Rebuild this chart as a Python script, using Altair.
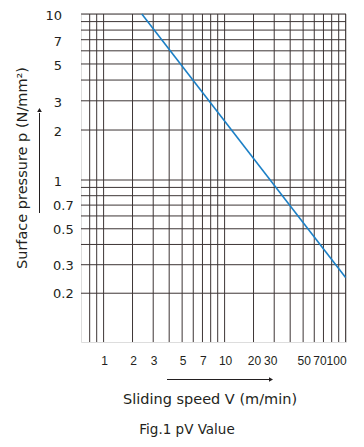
import altair as alt
import pandas as pd

# ---- data ----
x_grid = [0.8, 0.9, 1, 2, 3, 4, 5, 6, 7, 8, 9, 10, 20, 30, 40, 50, 60, 70, 80, 90, 100]
y_grid = [0.2, 0.3, 0.4, 0.5, 0.6, 0.7, 0.8, 0.9, 1, 2, 3, 4, 5, 6, 7, 8, 9, 10]
x_ticks = [1, 2, 3, 5, 7, 10, 20, 30, 50, 70, 100]
y_ticks_int = [10, 7, 5, 3, 2, 1]
y_ticks_dec = [0.7, 0.5, 0.3, 0.2]
line_v = [2.4, 100]
line_p = [10, 0.25]

# ---- layout / style ----
W, H = 265, 328
GRID = "#3d3535"
BLUE = "#1c80c6"
TEXT = "#231f20"
FONT = "DejaVu Sans"

# The reference's speed axis is a slightly warped log grid: position of
# 1..9 inside each decade, as a fraction of the decade width.
dec_frac = [0.0, 0.239, 0.41, 0.542, 0.649, 0.741, 0.817, 0.885, 0.943]
decade_px = 121.0
one_px = 22.6
x_dom, x_rng = [], []
for k in (-1, 0, 1):
    for m in range(1, 10):
        v = round(m * 10 ** k, 6)
        if v < 0.7:
            continue
        x_dom.append(v)
        x_rng.append(one_px + decade_px * (k + dec_frac[m - 1]))
x_dom.append(100)
x_rng.append(one_px + decade_px * 2)
x_rng[0] = 0.0
xscale = alt.Scale(type="log", domain=x_dom, range=x_rng, nice=False)
yscale = alt.Scale(type="log", domain=[0.1, 1, 10], range=[H, 166, 0], nice=False)

xg = pd.DataFrame({"v": x_grid})
yg = pd.DataFrame({"p": y_grid})
ln = pd.DataFrame({"v": line_v, "p": line_p})
xt = pd.DataFrame({"v": x_ticks})
yi = pd.DataFrame({"p": y_ticks_int})
yd = pd.DataFrame({"p": y_ticks_dec})
one = pd.DataFrame({"a": [0]})

vgrid = alt.Chart(xg).mark_rule(color=GRID, strokeWidth=1).encode(
    x=alt.X("v:Q", scale=xscale, axis=None))
hgrid = alt.Chart(yg).mark_rule(color=GRID, strokeWidth=1).encode(
    y=alt.Y("p:Q", scale=yscale, axis=None))
curve = alt.Chart(ln).mark_line(color=BLUE, strokeWidth=1.6).encode(
    x=alt.X("v:Q", scale=xscale, axis=None), y=alt.Y("p:Q", scale=yscale, axis=None))


def xlabels(test, align, dx):
    return alt.Chart(xt).transform_filter(test).mark_text(
        align=align, baseline="top", dx=dx, font="Liberation Sans", fontSize=12,
        color=TEXT).encode(
        x=alt.X("v:Q", scale=xscale, axis=None), y=alt.value(H + 14),
        text=alt.Text("v:Q", format="~g"))


# labels as printed in the reference: 30 and 70 sit a little left of their lines,
# 100 ends flush with the right edge
xlab_c = xlabels("datum.v < 100 && datum.v != 30 && datum.v != 70", "center", 1)
xlab_l = xlabels("datum.v == 30 || datum.v == 70", "center", -3.5)
xlab_r = xlabels("datum.v >= 100", "right", 1)

ylab_i = alt.Chart(yi).mark_text(align="right", baseline="middle", dy=2,
                                 font=FONT, fontSize=13, color=TEXT).encode(
    y=alt.Y("p:Q", scale=yscale, axis=None), x=alt.value(-19),
    text=alt.Text("p:Q", format="~g"))
ylab_d = alt.Chart(yd).mark_text(align="left", baseline="middle", dy=1,
                                 font=FONT, fontSize=13, color=TEXT).encode(
    y=alt.Y("p:Q", scale=yscale, axis=None), x=alt.value(-28),
    text=alt.Text("p:Q", format="~g"))

ytitle = alt.Chart(one).mark_text(text="Surface pressure p (N/mm²)", angle=270,
                                  align="center", baseline="alphabetic",
                                  font=FONT, fontSize=14.5, color=TEXT).encode(
    x=alt.value(-54.5), y=alt.value(154))
xtitle = alt.Chart(one).mark_text(text="Sliding speed V (m/min)", align="center",
                                  baseline="alphabetic", font=FONT, fontSize=14.5,
                                  color=TEXT).encode(x=alt.value(129), y=alt.value(390))
caption = alt.Chart(one).mark_text(text="Fig.1 pV Value", align="center",
                                   baseline="alphabetic", font=FONT, fontSize=13.5,
                                   color=TEXT).encode(x=alt.value(106), y=alt.value(420))

yarrow = alt.Chart(one).mark_rule(color=TEXT, strokeWidth=1).encode(
    x=alt.value(-41.5), y=alt.value(199), y2=alt.value(99))
yhead = alt.Chart(one).mark_point(shape="triangle-up", filled=True, size=22,
                                  color=TEXT, opacity=1).encode(
    x=alt.value(-41.5), y=alt.value(96))
xarrow = alt.Chart(one).mark_rule(color=TEXT, strokeWidth=1).encode(
    x=alt.value(86), x2=alt.value(188), y=alt.value(365.5))
xhead = alt.Chart(one).mark_point(shape="triangle-right", filled=True, size=22,
                                  color=TEXT, opacity=1).encode(
    x=alt.value(190), y=alt.value(365.5))

chart = alt.layer(vgrid, hgrid, curve, xlab_c, xlab_l, xlab_r, ylab_i, ylab_d,
                  ytitle, xtitle, caption, yarrow, yhead, xarrow, xhead).properties(
    width=W, height=H,
    autosize=alt.AutoSizeParams(type="none"),
    padding={"left": 73, "top": 6, "right": 10, "bottom": 95},
).configure_view(stroke=GRID, strokeWidth=1).configure(background="white")

chart.save("out.html", embed_options={"renderer": "svg", "actions": False})
